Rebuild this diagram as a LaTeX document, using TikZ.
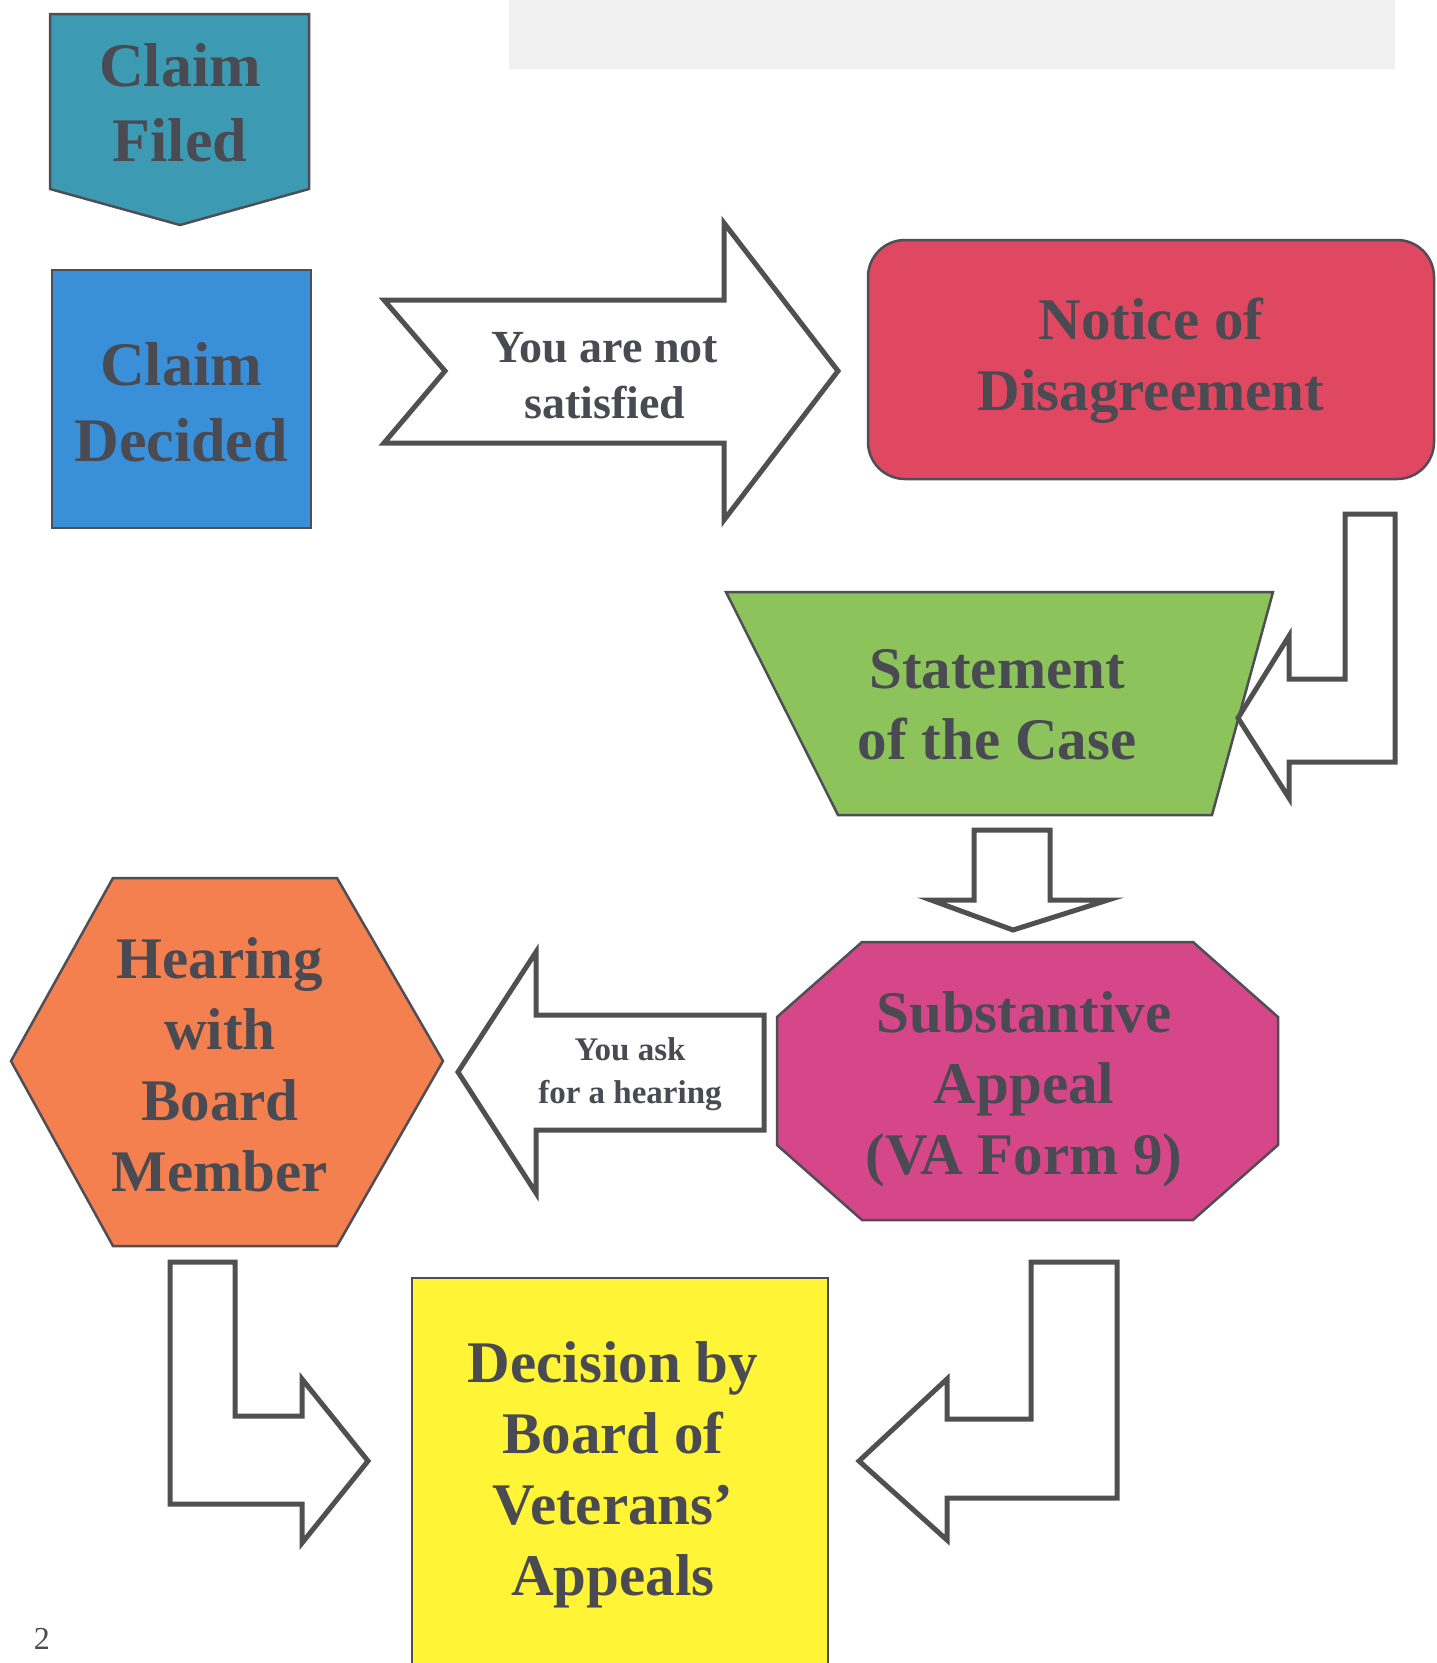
\documentclass[tikz,border=0pt]{standalone}
\usepackage{fontspec}
\setmainfont{Liberation Serif}
\definecolor{cteal}{HTML}{3C9BB2}
\definecolor{cblue}{HTML}{3A8FD9}
\definecolor{cred}{HTML}{E04862}
\definecolor{cgreen}{HTML}{8CC45B}
\definecolor{cmag}{HTML}{D6478A}
\definecolor{corange}{HTML}{F4804F}
\definecolor{cyellow}{HTML}{FFF536}
\definecolor{txt}{HTML}{4A4A52}
\definecolor{edge}{HTML}{4E4E54}
\definecolor{arrowedge}{HTML}{505050}
\begin{document}
\begin{tikzpicture}[x=1pt,y=-1pt,
  boxshape/.style={draw=edge,line width=2.5pt,line join=miter},
  blockarrow/.style={draw=arrowedge,fill=white,line width=5pt,line join=miter},
  big/.style={align=center,text=txt,font=\fontsize{59}{71}\selectfont\bfseries,inner sep=0pt},
  lbl/.style={align=center,text=txt,inner sep=0pt}]
\useasboundingbox (0,0) rectangle (1436,1663);
\fill[white] (0,0) rectangle (1436,1663);
\fill[black!6] (509,0) rectangle (1395,69);

% shapes
\draw[boxshape,fill=cteal] (50,14) -- (309,14) -- (309,189) -- (180,225) -- (50,189) -- cycle;
\draw[boxshape,fill=cblue] (52,270) rectangle (311,528);
\draw[boxshape,fill=cred,rounded corners=37pt] (868,240) rectangle (1434,479);
\draw[boxshape,fill=cgreen] (726,592) -- (1273,592) -- (1212,815) -- (838,815) -- cycle;
\draw[boxshape,fill=cmag] (862,942) -- (1193,942) -- (1278,1017) -- (1278,1145) -- (1193,1220) -- (862,1220) -- (777,1145) -- (777,1017) -- cycle;
\draw[boxshape,fill=corange] (113,878) -- (337,878) -- (443,1061) -- (337,1246) -- (113,1246) -- (11,1061) -- cycle;
\draw[boxshape,fill=cyellow] (412,1700) -- (412,1278) -- (828,1278) -- (828,1700);

% block arrows
\draw[blockarrow] (384,300) -- (724,300) -- (724,223) -- (838,371) -- (724,520) -- (724,443) -- (384,443) -- (445,371) -- cycle;
\draw[blockarrow] (1345,514) -- (1395,514) -- (1395,762) -- (1289,762) -- (1289,798) -- (1238,718) -- (1289,636) -- (1289,679) -- (1345,679) -- cycle;
\draw[blockarrow] (974,830) -- (1050,830) -- (1050,900) -- (1108,900) -- (1013,930) -- (931,900) -- (974,900) -- cycle;
\draw[blockarrow] (764,1015) -- (764,1130) -- (536,1130) -- (536,1193) -- (458,1072) -- (536,952) -- (536,1015) -- cycle;
\draw[blockarrow] (170,1262) -- (235,1262) -- (235,1416) -- (302,1416) -- (302,1379) -- (368,1461) -- (302,1543) -- (302,1504) -- (170,1504) -- cycle;
\draw[blockarrow] (1031,1262) -- (1117,1262) -- (1117,1498) -- (947,1498) -- (947,1540) -- (859,1461) -- (947,1379) -- (947,1419) -- (1031,1419) -- cycle;

% texts
\node[big,font=\fontsize{62}{75}\selectfont\bfseries] (filed) at (180,103) {Claim\\Filed};
\node[big,font=\fontsize{62}{76}\selectfont\bfseries] (decided) at (181,402) {Claim\\Decided};
\node[big] (notice) at (1151,361) {Notice of\\Disagreement};
\node[big] (soc) at (997,705) {Statement\\of the Case};
\node[big] (subst) at (1024,1089) {Substantive\\Appeal\\(VA Form 9)};
\node[big] (hearing) at (220,1065) {Hearing\\with\\Board\\Member};
\node[big] (decision) at (613,1475) {Decision by\\Board of\\Veterans’\\Appeals};
\node[lbl,font=\fontsize{46}{56}\selectfont\bfseries] (notsat) at (605,376) {You are not\\satisfied};
\node[lbl,font=\fontsize{33}{43}\selectfont\bfseries] (askhear) at (630,1074) {You ask\\for a hearing};
\node[lbl,font=\fontsize{32}{36}\selectfont,text=black!70] (pagenum) at (42,1639) {2};
\end{tikzpicture}
\end{document}
